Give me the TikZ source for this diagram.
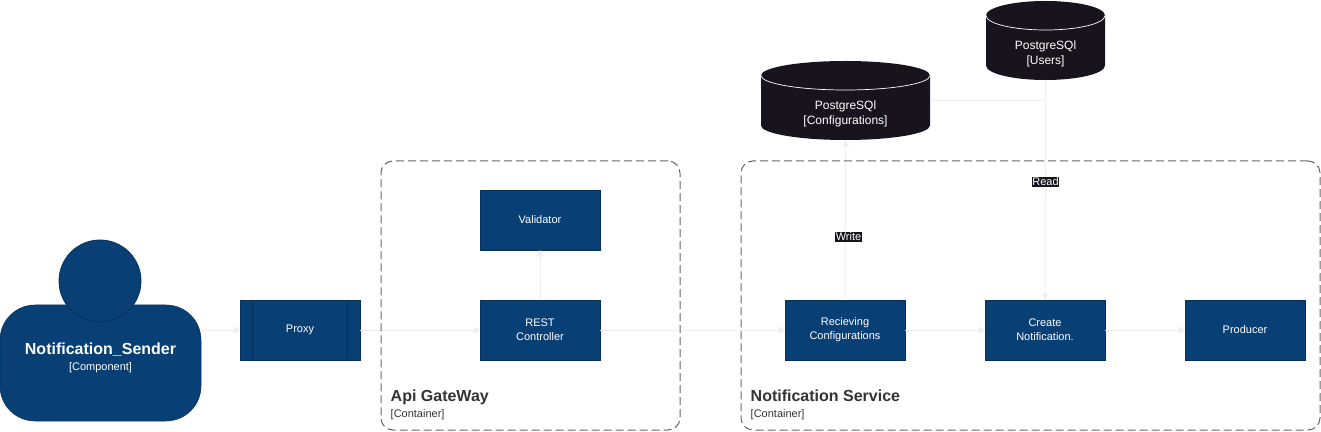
\documentclass[tikz,border=0pt]{standalone}
\usepackage{fontspec}
\setmainfont{Liberation Sans}
\usetikzlibrary{positioning,arrows.meta}

\definecolor{boxblue}{HTML}{083F75}
\definecolor{boxedge}{HTML}{06315C}
\definecolor{dbdark}{HTML}{18141D}
\definecolor{linkgrey}{HTML}{EEEEEE}
\definecolor{framegrey}{HTML}{666666}
\definecolor{titlegrey}{HTML}{333333}

\begin{document}
\begin{tikzpicture}[
        x=1pt, y=1pt,
        component/.style={rectangle, draw=boxedge, fill=boxblue, text=white, line width=0.8pt, outer sep=0pt, minimum width=120pt, minimum height=60pt, align=center, font=\fontsize{11}{14}\selectfont},
        person/.style={rectangle, draw=boxedge, fill=boxblue, line width=0.5pt, rounded corners=35pt, outer sep=0pt, minimum width=201pt, minimum height=116pt},
        head/.style={circle, draw=boxedge, fill=boxblue, line width=0.8pt, outer sep=0pt, minimum size=82pt},
        persontext/.style={text=white, align=center, inner sep=0pt, font=\fontsize{11}{16}\selectfont},
        db/.style={rectangle, outer sep=0pt, minimum height=79pt},
        dbtext/.style={text=white, align=center, inner sep=0pt, font=\fontsize{12}{15}\selectfont},
        container/.style={rectangle, draw=framegrey, dashed, dash pattern=on 8pt off 4pt, line width=1pt, rounded corners=12pt, outer sep=0pt, minimum height=269pt},
        containertext/.style={text=titlegrey, align=left, inner sep=0pt, font=\fontsize{11}{16}\selectfont},
        link/.style={-{Stealth[length=7pt,width=7pt,inset=1.5pt]}, draw=linkgrey, line width=1pt},
        plainlink/.style={draw=linkgrey, line width=1pt},
        linklabel/.style={fill=dbdark, text=white, inner xsep=0.5pt, inner ysep=1pt, font=\fontsize{11}{13}\selectfont},
    ]
    \useasboundingbox (0,0) rectangle (1321,431);

    \node[person] (sender) at (100.5,68) {};
    \node[head] (senderHead) at (100,150) {};
    \node[persontext, yshift=5pt] (senderText) at (sender) {{\fontsize{16}{19}\selectfont\bfseries Notification\_Sender}\\{[Component]}};

    \node[component] (proxy) at (300,101) {Proxy};
    \node[component] (rest) [right=120pt of proxy] {REST\\Controller};
    \node[component] (validator) [above=50pt of rest] {Validator};
    \node[component] (recieving) [right=185pt of rest] {Recieving\\Configurations};
    \node[component] (create) [right=80pt of recieving] {Create\\Notification.};
    \node[component] (producer) [right=80pt of create] {Producer};

    \draw[boxedge, line width=0.8pt] ([xshift=12.5pt]proxy.north west) -- ([xshift=12.5pt]proxy.south west);
    \draw[boxedge, line width=0.8pt] ([xshift=-12.5pt]proxy.north east) -- ([xshift=-12.5pt]proxy.south east);

    \node[db, minimum width=169pt] (configDb) at (845.5,330.5) {};
    \node[db, minimum width=119pt] (usersDb) at (1045.5,390.5) {};

    % cylinder bodies, same end height on both
    \foreach \dbname/\rx in {configDb/84.5, usersDb/59.5} {
        \fill[dbdark] ([yshift=-14.5pt]\dbname.north west) arc[start angle=180, end angle=0, x radius=\rx pt, y radius=14.5pt]
            -- ([yshift=14.5pt]\dbname.south east) arc[start angle=0, end angle=-180, x radius=\rx pt, y radius=14.5pt] -- cycle;
        \draw[white, line width=0.7pt] ([yshift=-14.5pt]\dbname.north west) arc[start angle=180, end angle=360, x radius=\rx pt, y radius=14.5pt];
    }
    \node[dbtext] (configText) at ([yshift=-13.5pt]configDb.center) {PostgreSQl\\{[Configurations]}};
    \node[dbtext] (usersText) at ([yshift=-13.5pt]usersDb.center) {PostgreSQl\\{[Users]}};

    \draw[link] (sender.east |- proxy.west) -- (proxy.west);
    \draw[link] (proxy.east) -- (rest.west);
    \draw[link] (rest.north) -- (validator.south);
    \draw[link] (rest.east) -- (recieving.west);
    \draw[link] (recieving.east) -- (create.west);
    \draw[link] (create.east) -- (producer.west);
    \draw[link] (recieving.north) -- (configDb.south);
    \draw[plainlink] (configDb.east) -| (usersDb.south);
    \draw[link] (usersDb.south) -- (create.north);

    \node[linklabel] (writeLabel) at (848.5,194) {Write};
    \node[linklabel] (readLabel) at (1045.5,249) {Read};

    \node[container, minimum width=299pt] (gateway) at (530.5,135.5) {};
    \node[container, minimum width=579pt] (service) at (1030.5,135.5) {};

    \node[containertext] (gatewayText) [above right=10pt and 9.5pt of gateway.south west] {{\fontsize{16}{19}\selectfont\bfseries Api GateWay}\\{[Container]}};
    \node[containertext] (serviceText) [above right=10pt and 9.5pt of service.south west] {{\fontsize{16}{19}\selectfont\bfseries Notification Service}\\{[Container]}};
\end{tikzpicture}
\end{document}
